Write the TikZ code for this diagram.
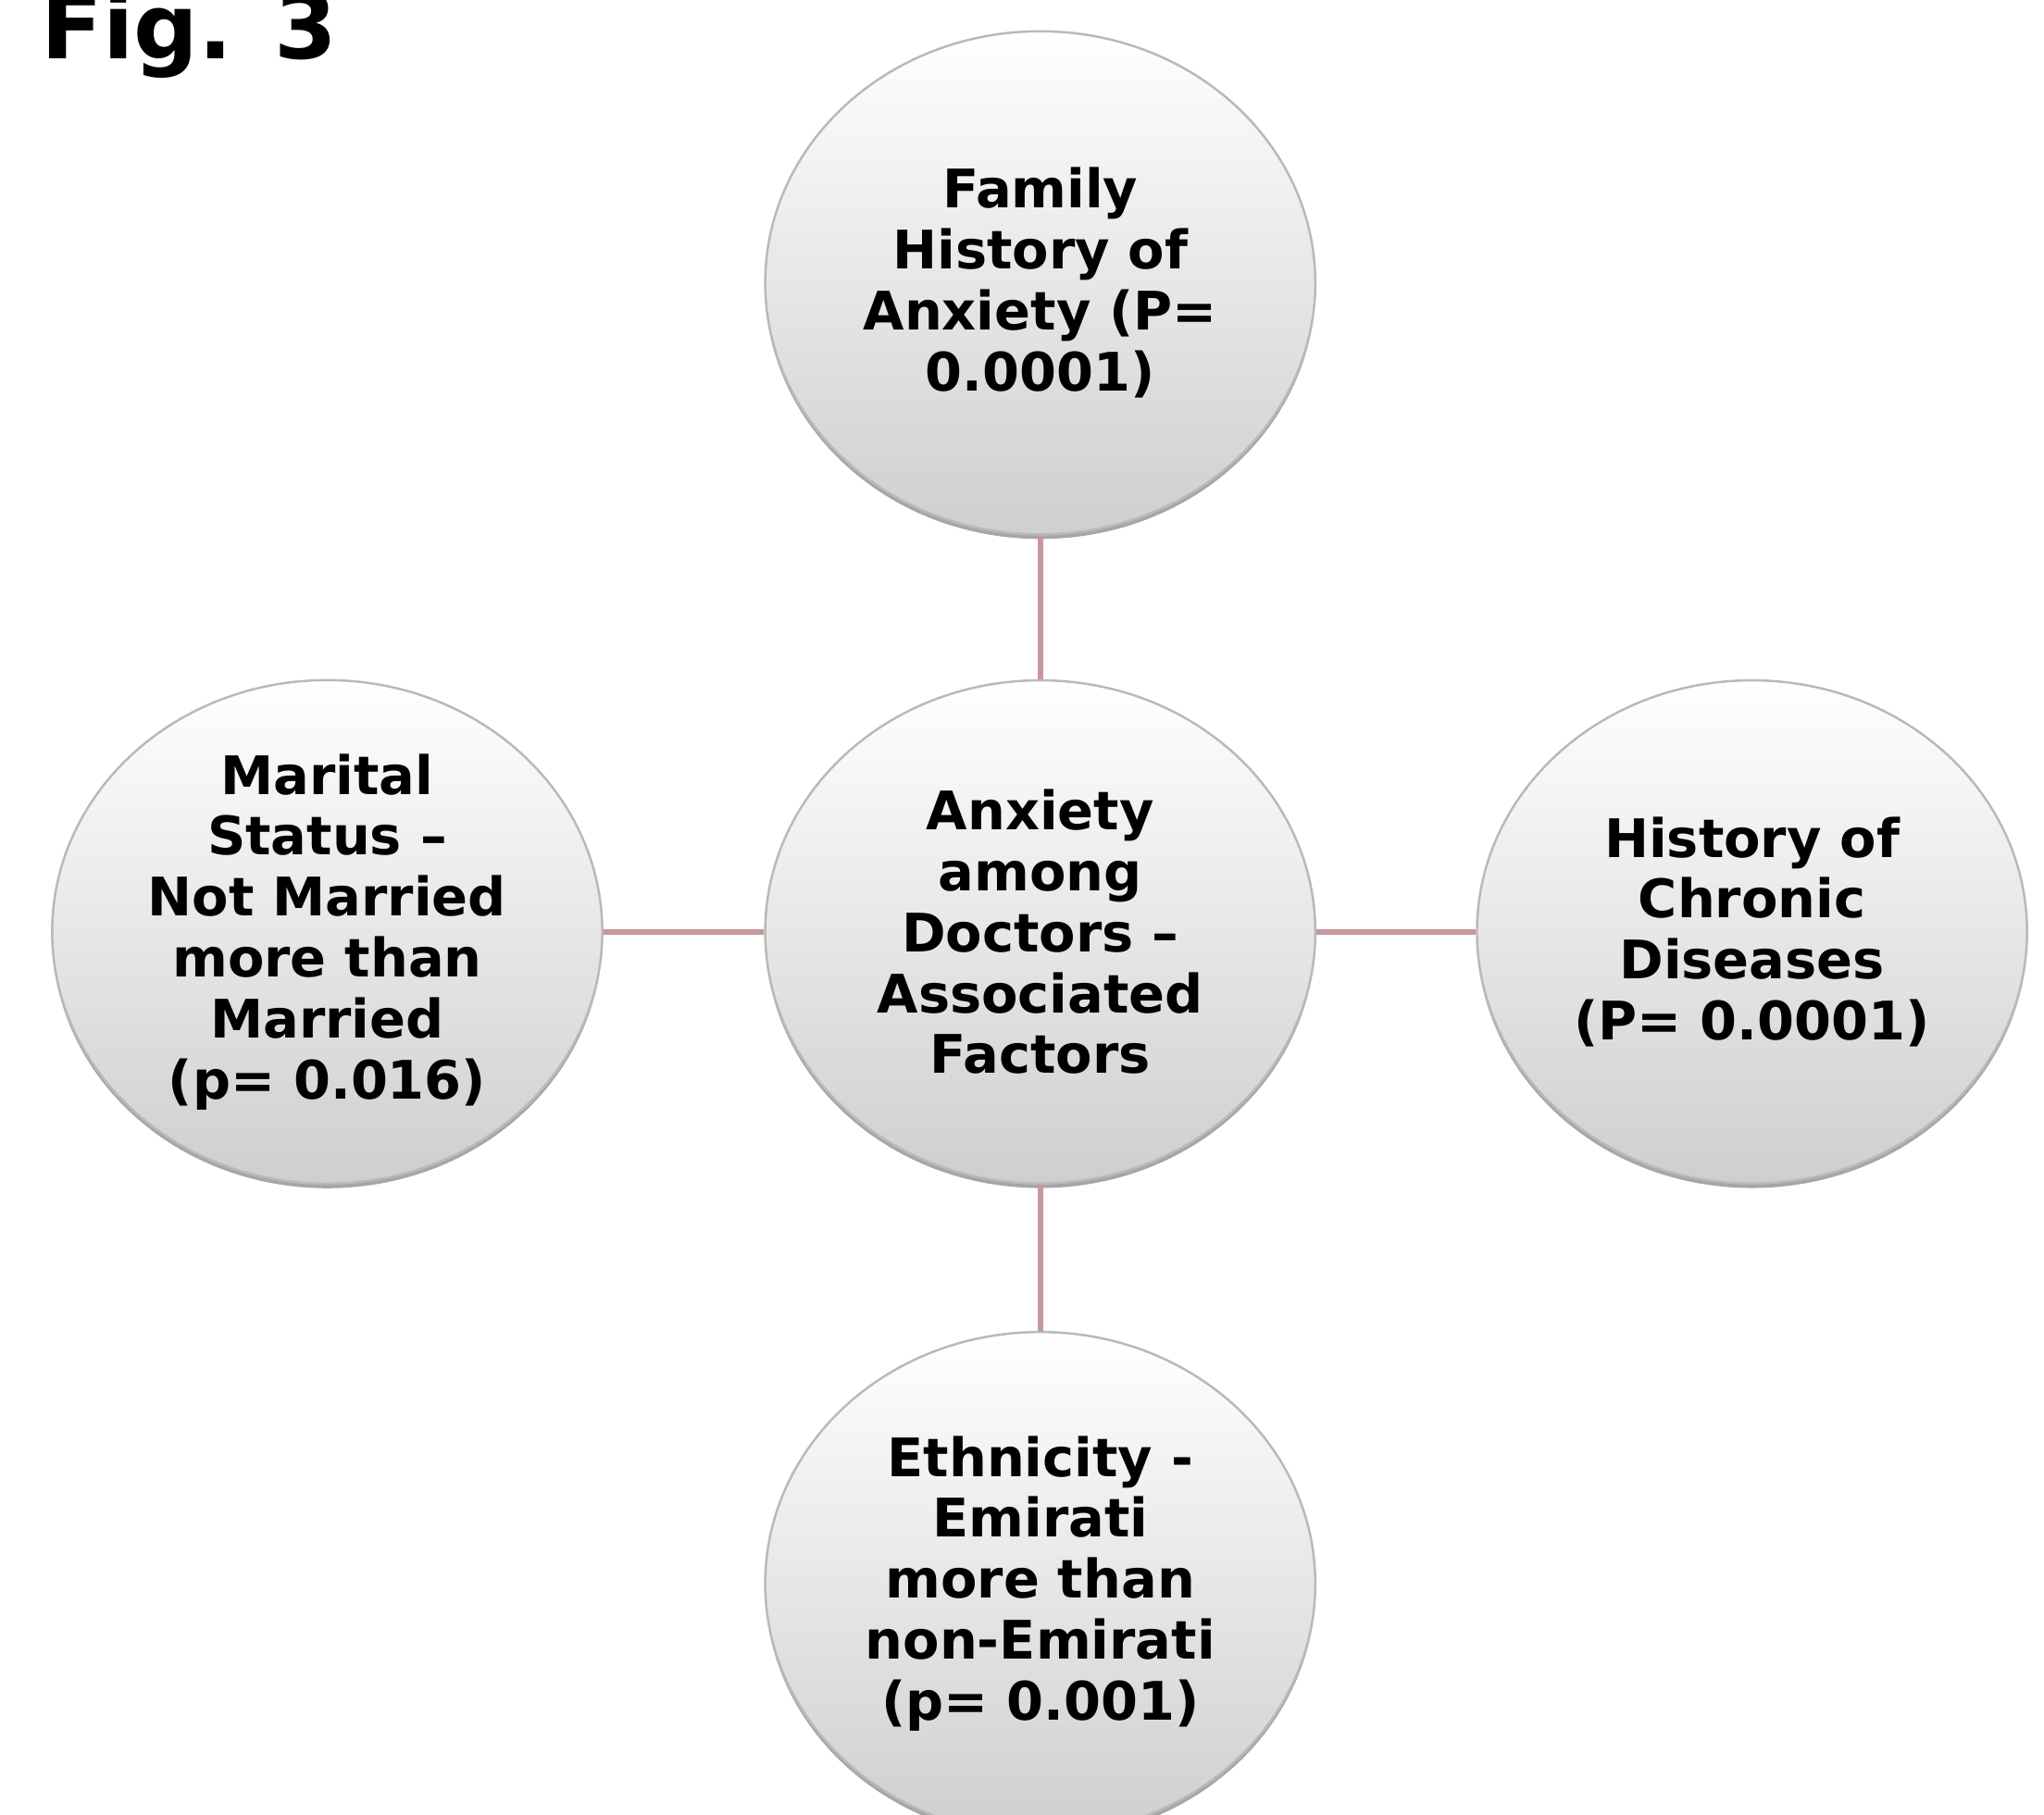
\documentclass[tikz,border=0pt]{standalone}
\usepackage{fontspec}
\setmainfont{DejaVu Sans}
\usetikzlibrary{shapes.geometric,shadows}
\definecolor{linkpink}{RGB}{201,150,155}
\definecolor{rimgray}{RGB}{185,185,185}
\begin{document}
\begin{tikzpicture}[
    factor/.style={ellipse, draw=rimgray, line width=0.5pt,
      top color=white, middle color=gray!6, bottom color=gray!38,
      minimum width=4.22cm, minimum height=3.86cm, inner sep=0pt, align=center,
      font=\fontsize{11.6}{13.3}\selectfont\bfseries,
      drop shadow={shadow xshift=0pt, shadow yshift=-1pt, opacity=0.35, fill=black}},
    link/.style={draw=linkpink, line width=1.3pt}]
    \useasboundingbox (0,0) rectangle (15.68,-13.92);
    \node[anchor=base west, inner sep=0pt, font=\fontsize{19.7}{23}\selectfont\bfseries] (fig) at (0.31,-0.45) {Fig. 3};
    \node[factor] (core) at (7.98,-7.15) {Anxiety\\among\\Doctors –\\Associated\\Factors};
    \node[factor] (family) at (7.98,-2.17) {Family\\History of\\Anxiety (P=\\0.0001)};
    \node[factor] (marital) at (2.51,-7.15) {Marital\\Status –\\Not Married\\more than\\Married\\(p= 0.016)};
    \node[factor] (chronic) at (13.44,-7.15) {History of\\Chronic\\Diseases\\(P= 0.0001)};
    \node[factor] (ethnic) at (7.98,-12.15) {Ethnicity -\\Emirati\\more than\\non-Emirati\\(p= 0.001)};
    \draw[link] (family) -- (core);
    \draw[link] (marital) -- (core);
    \draw[link] (chronic) -- (core);
    \draw[link] (ethnic) -- (core);
\end{tikzpicture}
\end{document}
